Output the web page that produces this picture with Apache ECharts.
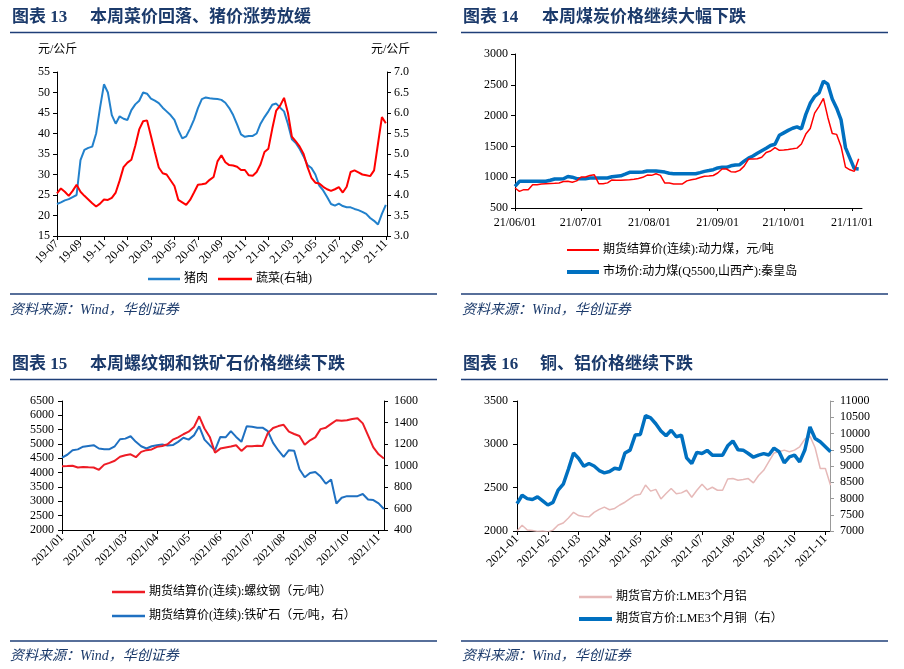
<!DOCTYPE html>
<html><head><meta charset="utf-8">
<script src="https://cdn.jsdelivr.net/npm/echarts@6/dist/echarts.min.js"></script>
<style>html,body{margin:0;padding:0;background:#fff}#c{width:904px;height:669px}</style>
</head><body><div id="c"></div>
<script>
// ---- 图表13: 猪肉 / 蔬菜, one value every 1/3 month from 2019-07 ----
const porkStep = 1 / 3;
const pork = [22.8,23.2,23.7,24.0,24.5,25.0,33.5,36.0,36.5,36.8,
40.0,46.3,52.0,50.0,44.5,42.4,44.2,43.6,43.3,45.7,
47.1,48.0,50.0,49.7,48.5,48.0,47.4,46.3,45.4,44.5,
43.3,40.8,38.8,39.3,41.2,43.4,46.2,48.4,48.8,48.6,
48.5,48.4,48.2,47.5,46.2,44.5,42.2,39.8,39.2,39.4,
39.4,40.0,42.4,44.0,45.4,47.0,47.3,46.3,45.4,42.3,
38.6,37.7,36.2,34.4,32.3,31.6,30.0,27.3,26.1,24.5,
22.8,22.4,22.9,22.3,22.0,22.0,21.6,21.3,20.9,20.4,
19.4,18.7,17.8,20.4,22.6];
const veg = [4.04,4.16,4.08,3.98,4.10,4.25,4.08,3.98,3.89,3.80,
3.72,3.79,3.89,3.88,3.93,4.06,4.35,4.68,4.79,4.86,
5.20,5.60,5.80,5.82,5.44,5.05,4.67,4.53,4.50,4.36,
4.22,3.88,3.82,3.76,3.88,4.06,4.25,4.26,4.28,4.37,
4.44,4.82,4.97,4.80,4.73,4.72,4.69,4.61,4.61,4.48,
4.47,4.56,4.75,5.05,5.13,5.62,6.06,6.18,6.37,6.00,
5.42,5.31,5.18,5.00,4.68,4.42,4.30,4.28,4.20,4.14,
4.10,4.14,4.19,4.06,4.20,4.56,4.60,4.55,4.50,4.48,
4.46,4.60,5.25,5.90,5.75];
const porkTickMonths = [0,2,4,6,8,10,12,14,16,18,20,22,24,26,28];

// ---- 图表14: 动力煤, one value every 2 days from 2021-06-01 ----
const coalStart = '2021-06-01';
const coalStepDays = 2;
const coalFutures = [825,770,798,798,879,879,888,892,896,900,
906,930,933,918,940,1003,1003,1028,1040,895,
895,908,955,952,950,955,960,968,980,998,
1035,1030,1055,1030,905,906,890,890,890,940,
960,970,995,1016,1020,1028,1068,1133,1133,1090,
1084,1111,1180,1295,1295,1300,1325,1400,1425,1480,
1436,1442,1450,1460,1472,1540,1700,1790,2040,2150,
2280,1970,1710,1695,1500,1165,1120,1095,1300];
const coalMarket = [852,933,933,933,933,933,933,933,950,971,
971,975,1012,1000,976,976,976,985,987,987,
987,987,1008,1015,1022,1050,1079,1080,1082,1085,
1101,1101,1101,1093,1083,1065,1057,1057,1057,1057,
1057,1057,1075,1095,1108,1122,1150,1160,1160,1185,
1198,1204,1260,1310,1345,1390,1430,1470,1515,1535,
1680,1720,1760,1795,1818,1785,2020,2200,2310,2370,
2560,2510,2270,2120,1930,1480,1310,1140,1133];
const coalTickDates = ['2021-06-01','2021-07-01','2021-08-01','2021-09-01','2021-10-01','2021-11-01'];

// ---- 图表15: 螺纹钢 / 铁矿石, one value every 1/6 month from 2021-01 ----
const steelStep = 1 / 6;
const rebar = [4227,4230,4240,4180,4200,4185,4180,4100,4280,4343,
4415,4555,4610,4640,4540,4726,4785,4810,4900,4930,
4990,5150,5230,5340,5430,5590,5966,5540,5247,4700,
4840,4880,4910,4955,4760,4923,4923,4940,4930,5380,
5560,5625,5670,5430,5350,5280,4970,5130,5230,5520,
5570,5700,5830,5810,5830,5870,5900,5720,5300,4880,
4640,4494];
const ironOre = [1074,1100,1142,1150,1175,1182,1189,1158,1152,1152,
1179,1244,1250,1272,1220,1179,1158,1179,1189,1195,
1185,1190,1220,1258,1241,1280,1365,1241,1189,1142,
1266,1262,1320,1266,1220,1365,1360,1352,1352,1320,
1210,1140,1080,1142,1138,965,890,930,940,897,
830,870,647,700,715,715,715,735,684,678,
648,595];

// ---- 图表16: 铝 / 铜, one value every 1/6 month from 2021-01 ----
const metalStep = 1 / 6;
const aluminium = [2000,2066,2012,2005,1995,2000,1990,2010,2070,2093,
2150,2215,2178,2168,2163,2215,2250,2275,2245,2260,
2300,2332,2374,2413,2424,2530,2460,2480,2370,2432,
2490,2430,2440,2470,2390,2470,2540,2475,2505,2470,
2470,2600,2605,2586,2594,2605,2555,2640,2700,2800,
2900,2914,2933,2914,2933,2972,3060,3095,2960,2721,
2721,2528];
const copper = [7843,8100,7997,7967,8050,7930,7800,7880,8260,8440,
8900,9400,9231,8990,9077,9000,8860,8790,8830,8930,
8900,9400,9488,9951,9972,10550,10480,10300,10080,9930,
10100,9900,9950,9250,9077,9420,9385,9480,9334,9334,
9334,9620,9770,9500,9488,9385,9270,9334,9380,9340,
9550,9440,9098,9283,9334,9128,9490,10200,9848,9745,
9591,9437];
const monthTicks2021 = [0,1,2,3,4,5,6,7,8,9,10];

// ---------------- build ----------------
const serif = '"Liberation Serif","Times New Roman",serif';
const cjk = '"Liberation Serif","Noto Sans CJK SC",serif';
const navy = '#1B3A6B';
const DAY = 86400000;
const coalT0 = Date.parse(coalStart);
const coalTickDays = coalTickDates.map(d => (Date.parse(d) - coalT0) / DAY);
const coalLabelOf = {};
coalTickDates.forEach((d, i) => { coalLabelOf[coalTickDays[i]] = d.slice(2).replace(/-/g, '/'); });

const pairs = (arr, step) => arr.map((v, i) => [i * step, v]);
const pad2 = n => (n < 10 ? '0' : '') + n;

const axLine = (c) => ({ show: true, lineStyle: { color: c || '#000', width: 1 } });
const tick = (c) => ({ show: true, length: 4, lineStyle: { color: c || '#000' } });
const lab = (extra) => Object.assign({ fontFamily: serif, fontSize: 12, color: '#000', formatter: v => String(v) }, extra || {});

// one legend component per entry so each icon gets its own line thickness
const legendFor = (name, left, cy, w, h) => ({
  data: [{ name: name, icon: 'rect' }], left: left, top: cy - 6, orient: 'horizontal',
  itemWidth: w, itemHeight: h, selectedMode: false, padding: 0,
  textStyle: { fontFamily: cjk, fontSize: 12, color: '#000', padding: [0, 0, 0, -1] }
});

const option = {
  animation: false,
  backgroundColor: '#fff',
  grid: [
    { left: 57, top: 72, width: 330, height: 164, containLabel: false, outerBoundsMode: 'none' },
    { left: 515, top: 54, width: 347, height: 154, containLabel: false, outerBoundsMode: 'none' },
    { left: 62, top: 401, width: 322, height: 129, containLabel: false, outerBoundsMode: 'none' },
    { left: 517, top: 401, width: 313, height: 130, containLabel: false, outerBoundsMode: 'none' }
  ],
  xAxis: [
    { gridIndex: 0, type: 'value', min: 0, max: 28.1, interval: 2, splitLine: { show: false },
      axisLine: axLine(), axisTick: Object.assign(tick(), { customValues: porkTickMonths }),
      axisLabel: lab({ rotate: 45, margin: 6, customValues: porkTickMonths,
        formatter: v => { const t = 6 + Math.round(v); return pad2(19 + Math.floor(t / 12)) + '-' + pad2(t % 12 + 1); } }) },
    { gridIndex: 1, type: 'value', min: 0, max: 157.5, splitLine: { show: false },
      axisLine: axLine(), axisTick: Object.assign(tick(), { length: 3, customValues: coalTickDays }),
      axisLabel: lab({ margin: 9, customValues: coalTickDays, formatter: v => coalLabelOf[v] || '' }) },
    { gridIndex: 2, type: 'value', min: 0, max: 10.17, interval: 1, splitLine: { show: false },
      axisLine: axLine(), axisTick: Object.assign(tick(), { customValues: monthTicks2021 }),
      axisLabel: lab({ rotate: 45, margin: 6, customValues: monthTicks2021, formatter: v => '2021/' + pad2(Math.round(v) + 1) }) },
    { gridIndex: 3, type: 'value', min: 0, max: 10.15, interval: 1, splitLine: { show: false },
      axisLine: axLine(), axisTick: Object.assign(tick(), { customValues: monthTicks2021 }),
      axisLabel: lab({ rotate: 45, margin: 6, customValues: monthTicks2021, formatter: v => '2021-' + pad2(Math.round(v) + 1) }) }
  ],
  yAxis: [
    { gridIndex: 0, type: 'value', min: 15, max: 55, interval: 5, position: 'left', splitLine: { show: false },
      axisLine: axLine(), axisTick: tick(), axisLabel: lab({ margin: 7 }) },
    { gridIndex: 0, type: 'value', min: 3, max: 7, interval: 0.5, position: 'right', splitLine: { show: false },
      axisLine: axLine(), axisTick: tick(), axisLabel: lab({ margin: 7, formatter: v => v.toFixed(1) }) },
    { gridIndex: 1, type: 'value', min: 500, max: 3000, interval: 500, splitLine: { show: false },
      axisLine: axLine(), axisTick: tick(), axisLabel: lab({ margin: 7 }) },
    { gridIndex: 2, type: 'value', min: 2000, max: 6500, interval: 500, position: 'left', splitLine: { show: false },
      axisLine: axLine(), axisTick: tick(), axisLabel: lab({ margin: 8 }) },
    { gridIndex: 2, type: 'value', min: 400, max: 1600, interval: 200, position: 'right', splitLine: { show: false },
      axisLine: axLine(), axisTick: tick(), axisLabel: lab({ margin: 10 }) },
    { gridIndex: 3, type: 'value', min: 2000, max: 3500, interval: 500, position: 'left', splitLine: { show: false },
      axisLine: axLine(), axisTick: tick(), axisLabel: lab({ margin: 9 }) },
    { gridIndex: 3, type: 'value', min: 7000, max: 11000, interval: 500, position: 'right', splitLine: { show: false },
      axisLine: axLine('#999'), axisTick: tick('#999'), axisLabel: lab({ margin: 10 }) }
  ],
  legend: [
    legendFor('猪肉', 148, 279, 32, 2.5),
    legendFor('蔬菜(右轴)', 218, 279, 34, 2.5),
    legendFor('期货结算价(连续):动力煤，元/吨', 567, 250, 32, 2),
    legendFor('市场价:动力煤(Q5500,山西产):秦皇岛', 567, 272, 32, 4),
    legendFor('期货结算价(连续):螺纹钢（元/吨）', 112, 592, 33, 2.5),
    legendFor('期货结算价(连续):铁矿石（元/吨，右）', 112, 616, 33, 2.5),
    legendFor('期货官方价:LME3个月铝', 579, 597, 33, 2.5),
    legendFor('期货官方价:LME3个月铜（右）', 579, 619, 33, 4)
  ],
  series: [
    { name: '猪肉', type: 'line', xAxisIndex: 0, yAxisIndex: 0, symbol: 'none', data: pairs(pork, porkStep),
      lineStyle: { color: '#2281CC', width: 2 }, itemStyle: { color: '#2281CC' } },
    { name: '蔬菜(右轴)', type: 'line', xAxisIndex: 0, yAxisIndex: 1, symbol: 'none', data: pairs(veg, porkStep),
      lineStyle: { color: '#FF0000', width: 2 }, itemStyle: { color: '#FF0000' } },
    { name: '期货结算价(连续):动力煤，元/吨', type: 'line', xAxisIndex: 1, yAxisIndex: 2, symbol: 'none', z: 3,
      data: pairs(coalFutures, coalStepDays), lineStyle: { color: '#FF0000', width: 1.5 }, itemStyle: { color: '#FF0000' } },
    { name: '市场价:动力煤(Q5500,山西产):秦皇岛', type: 'line', xAxisIndex: 1, yAxisIndex: 2, symbol: 'none', z: 2,
      data: pairs(coalMarket, coalStepDays), lineStyle: { color: '#0070C0', width: 3.5 }, itemStyle: { color: '#0070C0' } },
    { name: '期货结算价(连续):螺纹钢（元/吨）', type: 'line', xAxisIndex: 2, yAxisIndex: 3, symbol: 'none', z: 3,
      data: pairs(rebar, steelStep), lineStyle: { color: '#EE1C25', width: 2 }, itemStyle: { color: '#EE1C25' } },
    { name: '期货结算价(连续):铁矿石（元/吨，右）', type: 'line', xAxisIndex: 2, yAxisIndex: 4, symbol: 'none', z: 2,
      data: pairs(ironOre, steelStep), lineStyle: { color: '#1F70C1', width: 2 }, itemStyle: { color: '#1F70C1' } },
    { name: '期货官方价:LME3个月铝', type: 'line', xAxisIndex: 3, yAxisIndex: 5, symbol: 'none', z: 2,
      data: pairs(aluminium, metalStep), lineStyle: { color: '#E6B9B8', width: 1.5 }, itemStyle: { color: '#E6B9B8' } },
    { name: '期货官方价:LME3个月铜（右）', type: 'line', xAxisIndex: 3, yAxisIndex: 6, symbol: 'none', z: 3,
      data: pairs(copper, metalStep), lineStyle: { color: '#0070C0', width: 3.5 }, itemStyle: { color: '#0070C0' } }
  ],
  graphic: []
};

// titles, rules, source notes, unit labels
const titles = [
  { x: 12, y: 18, num: '图表 13', body: '本周菜价回落、猪价涨势放缓', bx: 90 },
  { x: 463, y: 18, num: '图表 14', body: '本周煤炭价格继续大幅下跌', bx: 542 },
  { x: 12, y: 365, num: '图表 15', body: '本周螺纹钢和铁矿石价格继续下跌', bx: 90 },
  { x: 463, y: 365, num: '图表 16', body: '铜、铝价格继续下跌', bx: 540 }
];
const g = option.graphic;
titles.forEach(t => {
  g.push({ type: 'text', style: { x: t.x, y: t.y, text: t.num, font: 'bold 17px ' + cjk, fill: navy, textVerticalAlign: 'middle', verticalAlign: 'middle' } });
  g.push({ type: 'text', style: { x: t.bx, y: t.y, text: t.body, font: 'bold 17px ' + cjk, fill: navy, textVerticalAlign: 'middle', verticalAlign: 'middle' } });
});
[[10, 437, 32.5], [461, 888, 32.5], [10, 437, 294], [461, 888, 294],
 [10, 437, 379.5], [461, 888, 379.5], [10, 437, 641], [461, 888, 641]].forEach(l => {
  g.push({ type: 'line', shape: { x1: l[0], y1: l[2], x2: l[1], y2: l[2] }, style: { stroke: '#1F3F78', lineWidth: 1.5 } });
});
[[10, 310], [462, 310], [10, 656], [462, 656]].forEach(p => {
  g.push({ type: 'text', style: { x: p[0], y: p[1], text: '资料来源：Wind，华创证券', font: 'italic 14px ' + cjk, fill: navy, textVerticalAlign: 'middle', verticalAlign: 'middle' } });
});
[[38, 50], [371, 50]].forEach(p => {
  g.push({ type: 'text', style: { x: p[0], y: p[1], text: '元/公斤', font: '12px ' + cjk, fill: '#000', textVerticalAlign: 'middle', verticalAlign: 'middle' } });
});

const chart = echarts.init(document.getElementById('c'), null, { renderer: 'canvas' });
chart.setOption(option);
</script>
</body></html>
